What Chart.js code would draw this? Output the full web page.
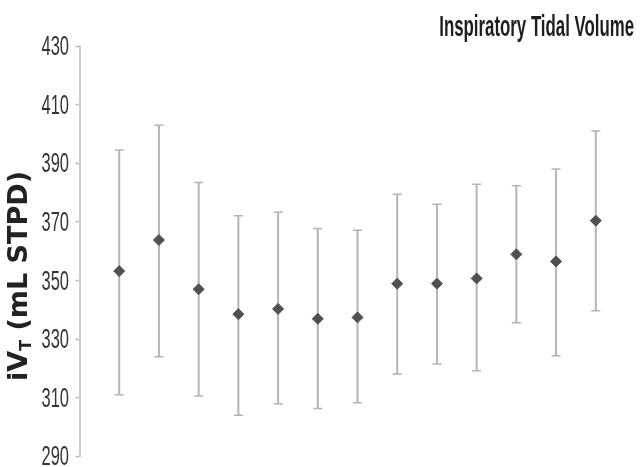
<!DOCTYPE html>
<html>
<head>
<meta charset="utf-8">
<script src="https://cdn.jsdelivr.net/npm/chart.js@4.4.1/dist/chart.umd.min.js"></script>
<style>
  html, body { margin: 0; padding: 0; background: #fff; }
  #wrap { position: relative; width: 642px; height: 467px; }
</style>
</head>
<body>
<div id="wrap"><canvas id="tidalChart"></canvas></div>
<script>
// values
const positions = [1, 2, 3, 4, 5, 6, 7, 8, 9, 10, 11, 12, 13];
const means = [353.2, 363.8, 347.0, 338.5, 340.3, 336.9, 337.4, 348.9, 348.9, 350.7, 358.9, 356.5, 370.4];
const upper = [394.5, 403.0, 383.4, 372.1, 373.3, 367.7, 367.1, 379.4, 376.0, 382.8, 382.3, 388.0, 401.0];
const lower = [311.0, 324.0, 310.6, 304.0, 307.9, 306.3, 308.3, 318.1, 321.5, 319.2, 335.6, 324.3, 339.7];
const yTicks = [290, 310, 330, 350, 370, 390, 410, 430];
const chartTitle = 'Inspiratory Tidal Volume';

// no condensed face is installed, so squeeze Liberation Sans horizontally
const squeeze = 0.6;

// vertical whiskers with small caps
const errorBars = {
    id: 'errorBars',
    beforeDatasetsDraw(chart) {
        const { ctx, scales: { x, y } } = chart;
        ctx.save();
        ctx.strokeStyle = '#b4b4b4';
        positions.forEach((p, i) => {
            const px = x.getPixelForValue(p);
            const top = y.getPixelForValue(upper[i]);
            const bot = y.getPixelForValue(lower[i]);
            ctx.lineWidth = 2;
            ctx.beginPath();
            ctx.moveTo(px, top);
            ctx.lineTo(px, bot);
            ctx.stroke();
            ctx.lineWidth = 1.5;
            ctx.beginPath();
            ctx.moveTo(px - 4.5, top);
            ctx.lineTo(px + 4.5, top);
            ctx.moveTo(px - 4.5, bot);
            ctx.lineTo(px + 4.5, bot);
            ctx.stroke();
        });
        ctx.restore();
    }
};

// condensed tick labels + title, placed with the y scale
const condensedText = {
    id: 'condensedText',
    afterDraw(chart) {
        const { ctx, scales: { y } } = chart;
        ctx.save();
        ctx.fillStyle = '#333';
        ctx.font = "27.5px 'Liberation Sans', Arial, sans-serif";
        ctx.textAlign = 'right';
        ctx.textBaseline = 'middle';
        yTicks.forEach(v => {
            const py = y.getPixelForValue(v) + 1.5;
            ctx.save();
            ctx.translate(69, py);
            ctx.scale(squeeze, 1);
            ctx.fillText(String(v), 0, 0);
            ctx.restore();
        });

        ctx.fillStyle = '#1e1e1e';
        ctx.font = "bold 29px 'Liberation Sans', Arial, sans-serif";
        ctx.textBaseline = 'alphabetic';
        ctx.translate(634, 35.5);
        ctx.scale(0.58, 1);
        ctx.fillText(chartTitle, 0, 0);
        ctx.restore();
    }
};

// rotated y title with subscript T
const yTitle = {
    id: 'yTitle',
    afterDraw(chart) {
        const { ctx } = chart;
        const big = "bold 27px 'DejaVu Sans', Verdana, sans-serif";
        const small = "bold 16px 'DejaVu Sans', Verdana, sans-serif";
        const parts = [
            { text: 'iV', font: big, shift: 0 },
            { text: 'T', font: small, shift: 4 },
            { text: ' (mL STPD)', font: big, shift: 0 }
        ];
        ctx.save();
        let total = 0;
        parts.forEach(pt => { ctx.font = pt.font; pt.w = ctx.measureText(pt.text).width; total += pt.w; });
        ctx.translate(26.5, 276);
        ctx.rotate(-Math.PI / 2);
        ctx.fillStyle = '#222';
        ctx.textBaseline = 'alphabetic';
        let cx = -total / 2;
        parts.forEach(pt => {
            ctx.font = pt.font;
            ctx.fillText(pt.text, cx, pt.shift);
            cx += pt.w;
        });
        ctx.restore();
    }
};

const ctx = document.getElementById('tidalChart').getContext('2d');
new Chart(ctx, {
    type: 'scatter',
    data: {
        datasets: [{
            label: 'iVT',
            data: positions.map((p, i) => ({ x: p, y: means[i] })),
            pointStyle: 'rectRot',
            pointRadius: 5.5,
            pointHoverRadius: 5.5,
            backgroundColor: '#505050',
            borderColor: '#505050',
            borderWidth: 1
        }]
    },
    options: {
        responsive: true,
        maintainAspectRatio: false,
        animation: false,
        layout: { padding: { top: 46, right: 6.5, bottom: 10.7, left: 0 } },
        plugins: {
            legend: { display: false },
            tooltip: { enabled: false },
            title: { display: false }
        },
        scales: {
            x: {
                type: 'linear',
                min: 0,
                max: 14,
                display: false
            },
            y: {
                min: 290,
                max: 430,
                afterBuildTicks: (scale) => { scale.ticks = yTicks.map(v => ({ value: v })); },
                afterFit: (scale) => { scale.width = 79.5; },
                border: { display: true, color: '#cccccc', width: 2 },
                grid: { drawOnChartArea: false, tickLength: 4, color: '#bbbbbb', tickWidth: 1.5 },
                ticks: { display: false }
            }
        }
    },
    plugins: [errorBars, condensedText, yTitle]
});
</script>
</body>
</html>
